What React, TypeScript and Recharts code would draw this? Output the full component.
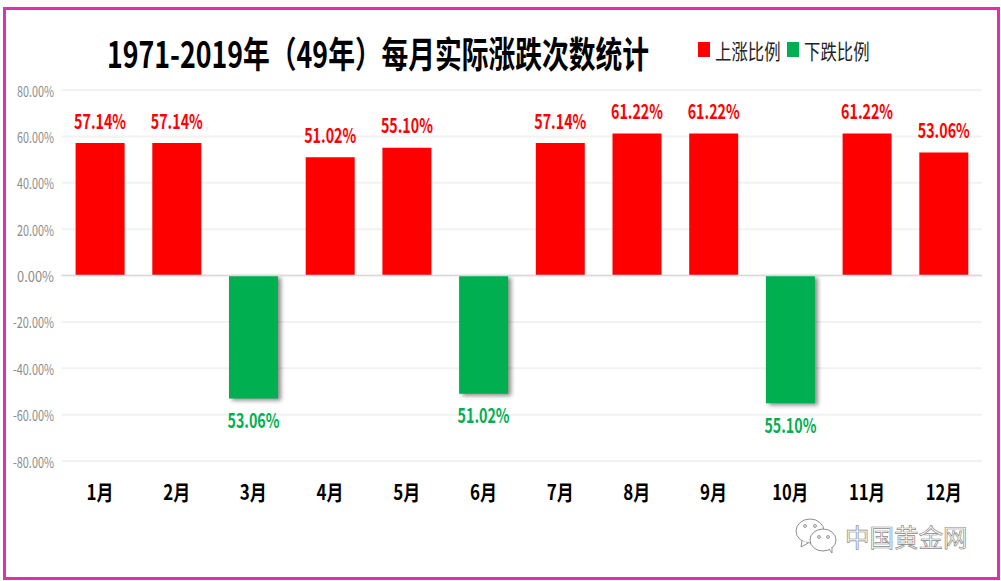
import { Bar, BarChart, CartesianGrid, LabelList, Legend, ReferenceLine, XAxis, YAxis } from 'recharts'

const MONTHS = ['1月', '2月', '3月', '4月', '5月', '6月', '7月', '8月', '9月', '10月', '11月', '12月']
const UP_VALUES = [57.14, 57.14, null, 51.02, 55.1, null, 57.14, 61.22, 61.22, null, 61.22, 53.06]
const DOWN_VALUES = [null, null, -53.06, null, null, -51.02, null, null, null, -55.1, null, null]
const Y_TICKS = [-80, -60, -40, -20, 0, 20, 40, 60, 80]

const TITLE = '1971-2019年（49年）每月实际涨跌次数统计'
const WATERMARK = '中国黄金网'
const RED = '#ff0000'
const GREEN = '#00b050'
const BORDER = '#e02fa8'
const FONT = '"Noto Sans CJK SC", "Noto Sans", sans-serif'

const data = MONTHS.map((month, i) => ({ month, up: UP_VALUES[i], down: DOWN_VALUES[i] }))

function percent(value: number) {
  return `${Math.abs(value).toFixed(2)}%`
}

function ValueLabel({ x, y, width, height, value, color }: any) {
  if (value === null || value === undefined) return null
  const center = Number(x) + Number(width) / 2
  const top = Math.min(Number(y), Number(y) + Number(height))
  const bottom = Math.max(Number(y), Number(y) + Number(height))
  const textY = value >= 0 ? top - 23 : bottom + 21
  return (
    <text
      x={center}
      y={textY}
      textAnchor="middle"
      dominantBaseline="central"
      fontFamily={FONT}
      fontWeight={700}
      fontSize={20}
      fill={color}
      textLength={52}
      lengthAdjust="spacingAndGlyphs"
    >
      {percent(value)}
    </text>
  )
}

function MonthTick({ x, y, payload }: any) {
  return (
    <text
      x={x}
      y={y}
      textAnchor="middle"
      dominantBaseline="central"
      fontFamily={FONT}
      fontWeight={700}
      fontSize={21}
      fill="#000"
      textLength={payload.value.length > 2 ? 36 : 27}
      lengthAdjust="spacingAndGlyphs"
    >
      {payload.value}
    </text>
  )
}

function ValueTick({ x, y, payload }: any) {
  const label = `${payload.value.toFixed(2)}%`
  return (
    <text
      x={x}
      y={y}
      textAnchor="end"
      dominantBaseline="central"
      fontFamily={FONT}
      fontSize={15}
      fill="#8c8c8c"
      textLength={payload.value < 0 ? 41 : 37}
      lengthAdjust="spacingAndGlyphs"
    >
      {label}
    </text>
  )
}

function ChartLegend({ payload }: any) {
  const items = payload ?? []
  return (
    <svg width={180} height={30} style={{ display: 'block' }}>
      {items.map((item: any, i: number) => (
        <g key={item.value} transform={`translate(${i * 89}, 0)`}>
          <rect x={0} y={7} width={12} height={15} fill={item.color} />
          <text
            transform="translate(17, 15) scale(0.78, 1)"
            dominantBaseline="central"
            fontFamily={FONT}
            fontSize={21}
            fill="#222"
          >
            {item.value}
          </text>
        </g>
      ))}
    </svg>
  )
}

function WeChatIcon() {
  return (
    <svg width={44} height={40} style={{ position: 'absolute', left: 795, top: 516 }}>
      <ellipse cx={15} cy={15} rx={14} ry={12} fill="#fff" stroke="#8e8e8e" />
      <path d="M7 25 L6 31 L13 27" fill="#fff" stroke="#8e8e8e" />
      <ellipse cx={28} cy={24} rx={13} ry={11} fill="#fff" stroke="#8e8e8e" />
      <path d="M34 33 L37 37 L37 31" fill="#fff" stroke="#8e8e8e" />
      <circle cx={10} cy={10} r={1.4} fill="none" stroke="#8e8e8e" />
      <circle cx={20} cy={10} r={1.4} fill="none" stroke="#8e8e8e" />
      <circle cx={24} cy={21} r={1.4} fill="none" stroke="#8e8e8e" />
      <circle cx={33} cy={21} r={1.4} fill="none" stroke="#8e8e8e" />
    </svg>
  )
}

export default function App() {
  return (
    <div style={{ position: 'absolute', left: 0, top: 0, width: 1001, height: 581, background: '#fff', overflow: 'hidden' }}>
      <BarChart
        width={1001}
        height={581}
        data={data}
        stackOffset="sign"
        margin={{ top: 90, right: 19, bottom: 80, left: 0 }}
      >
        <CartesianGrid horizontal vertical={false} stroke="#f2f2f2" strokeWidth={2} />
        <XAxis
          dataKey="month"
          interval={0}
          axisLine={false}
          tickLine={false}
          height={40}
          tick={<MonthTick />}
          tickMargin={24}
        />
        <YAxis
          domain={[-80, 80]}
          ticks={Y_TICKS}
          width={61.6}
          axisLine={false}
          tickLine={false}
          tick={<ValueTick />}
          tickMargin={1.6}
        />
        <ReferenceLine y={0} stroke="#d9d9d9" strokeWidth={1.5} />
        <Legend
          layout="horizontal"
          verticalAlign="middle"
          align="center"
          content={<ChartLegend />}
          wrapperStyle={{ left: 698, top: 35, width: 180 }}
        />
        <Bar dataKey="up" name="上涨比例" stackId="a" fill={RED} barSize={49} isAnimationActive={false}>
          <LabelList dataKey="up" content={<ValueLabel color={RED} />} />
        </Bar>
        <Bar
          dataKey="down"
          name="下跌比例"
          stackId="a"
          fill={GREEN}
          barSize={49}
          isAnimationActive={false}
          style={{ filter: 'drop-shadow(3px 2px 2px rgba(0,0,0,0.45))' }}
        >
          <LabelList dataKey="down" content={<ValueLabel color={GREEN} />} />
        </Bar>
        <text
          transform="translate(107, 52) scale(0.743, 1)"
          dominantBaseline="central"
          fontFamily={FONT}
          fontWeight={700}
          fontSize={36}
          fill="#000"
        >
          {TITLE}
        </text>
      </BarChart>
      <WeChatIcon />
      <div
        style={{
          position: 'absolute',
          left: 845,
          top: 520,
          fontFamily: FONT,
          fontSize: 24.5,
          lineHeight: '34px',
          color: '#fff',
          WebkitTextStroke: '0.7px #8a8a8a',
          whiteSpace: 'nowrap',
        }}
      >
        {WATERMARK}
      </div>
      <div
        style={{
          position: 'absolute',
          left: 3,
          top: 7,
          width: 991,
          height: 567,
          border: `3px solid ${BORDER}`,
          boxSizing: 'content-box',
          pointerEvents: 'none',
        }}
      />
    </div>
  )
}
